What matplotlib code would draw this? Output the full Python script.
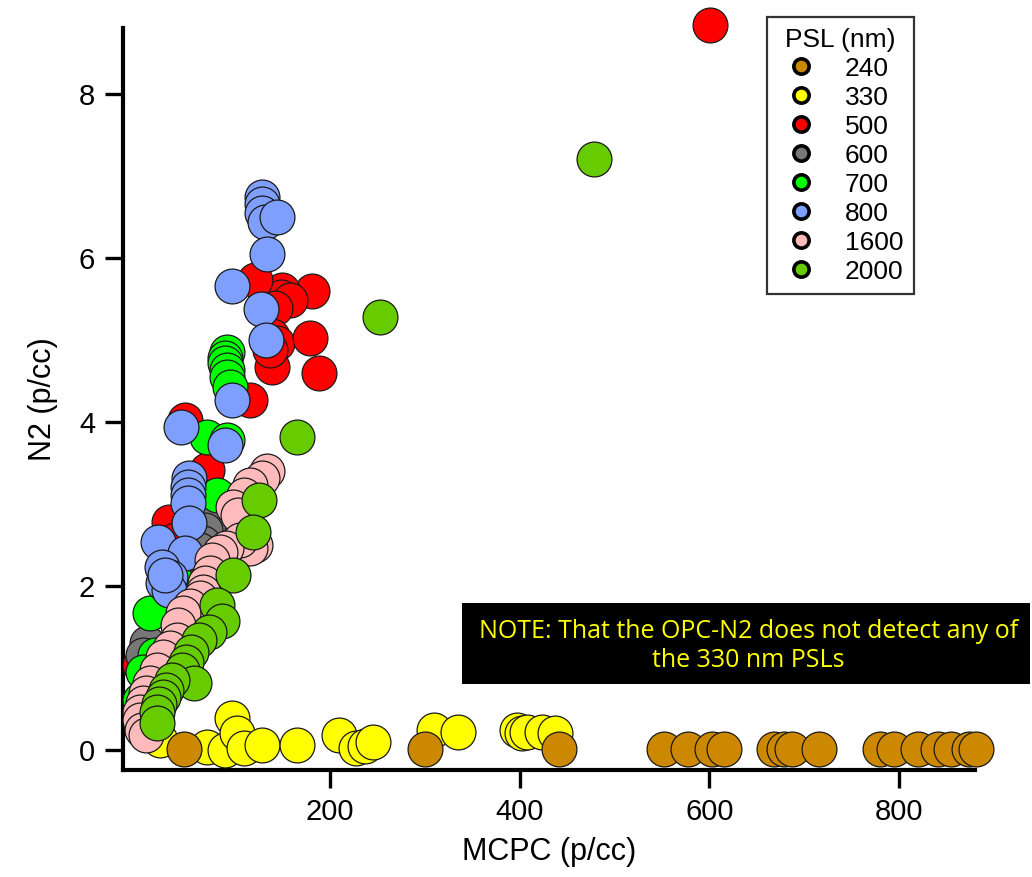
import matplotlib
matplotlib.use("Agg")
import matplotlib.pyplot as plt
from matplotlib.lines import Line2D
from matplotlib.patches import Rectangle

plt.rcParams["font.family"] = ["Liberation Sans", "DejaVu Sans"]

# PSL size classes and their marker colours
psl_sizes = ["240", "330", "500", "600", "700", "800", "1600", "2000"]
psl_colors = {
    "240": "#CC8800",
    "330": "#FFFF00",
    "500": "#FF0000",
    "600": "#777777",
    "700": "#00FF00",
    "800": "#7F9FFF",
    "1600": "#FFBBBB",
    "2000": "#66CC00",
}

# MCPC vs OPC-N2 concentrations (p/cc) per PSL size
mcpc_330 = [21, 70, 89, 97, 102, 110, 129, 165, 210, 228, 237, 245, 310, 335, 397, 402, 408, 424, 437]
n2_330 = [0.12, 0.04, 0.0, 0.39, 0.21, 0.02, 0.06, 0.06, 0.18, 0.02, 0.05, 0.10, 0.24, 0.22, 0.24, 0.21, 0.22, 0.22, 0.21]

mcpc_500 = [601, 181, 150, 149, 158, 142, 121, 139, 144, 179, 189, 139, 137, 116, 47, 70, 30, 56, 0, 37]
n2_500 = [8.84, 5.59, 5.61, 5.52, 5.49, 5.39, 5.73, 5.04, 4.96, 5.02, 4.60, 4.67, 4.88, 4.27, 4.02, 3.41, 2.78, 2.22, 1.04, 2.56]

mcpc_600 = [72, 68, 66, 63, 7, 3]
n2_600 = [2.74, 2.68, 2.52, 2.44, 1.30, 1.16]

mcpc_700 = [92, 90, 90, 92, 92, 95, 70, 92, 81, 10, 16, 3, 0, 37]
n2_700 = [4.85, 4.78, 4.72, 4.63, 4.55, 4.43, 3.82, 3.78, 3.11, 1.67, 1.16, 0.95, 0.61, 2.07]

mcpc_800 = [128, 128, 128, 132, 144, 134, 97, 127, 133, 97, 43, 90, 52, 51, 51, 50, 52, 19, 47, 23, 32, 24, 30, 26]
n2_800 = [6.74, 6.65, 6.55, 6.43, 6.50, 6.04, 5.66, 5.38, 5.00, 4.27, 3.94, 3.72, 3.32, 3.20, 3.11, 3.01, 2.77, 2.54, 2.40, 2.23, 2.11, 2.04, 1.95, 2.13]

mcpc_1600 = [134, 128, 116, 110, 98, 103, 121, 116, 105, 91, 84, 76, 74, 68, 66, 63, 53, 45, 40, 39,
             32, 24, 18, 10, 6, 3, 0, 0, 2, 6]
n2_1600 = [3.40, 3.32, 3.23, 3.11, 2.96, 2.87, 2.50, 2.46, 2.56, 2.46, 2.41, 2.32, 2.16, 2.04, 1.93, 1.85, 1.76, 1.67, 1.52, 1.34,
           1.24, 1.13, 0.98, 0.82, 0.70, 0.57, 0.46, 0.37, 0.24, 0.18]

mcpc_2000 = [478, 253, 165, 125, 119, 98, 81, 86, 73, 62, 54, 48, 44, 57, 34, 27, 24, 20, 18, 18]
n2_2000 = [7.20, 5.28, 3.82, 3.05, 2.66, 2.13, 1.77, 1.57, 1.44, 1.34, 1.20, 1.07, 0.98, 0.82, 0.85, 0.73, 0.65, 0.56, 0.46, 0.33]

mcpc_240 = [46, 300, 441, 552, 577, 603, 615, 668, 679, 687, 716, 780, 795, 820, 841, 855, 874, 881]
n2_240 = [0.01, 0.01, 0.01, 0.01, 0.01, 0.01, 0.01, 0.01, 0.01, 0.01, 0.01, 0.01, 0.01, 0.01, 0.01, 0.01, 0.01, 0.01]

series = [
    ("330", mcpc_330, n2_330),
    ("500", mcpc_500, n2_500),
    ("600", mcpc_600, n2_600),
    ("700", mcpc_700, n2_700),
    ("800", mcpc_800, n2_800),
    ("1600", mcpc_1600, n2_1600),
    ("2000", mcpc_2000, n2_2000),
    ("240", mcpc_240, n2_240),
]

fig = plt.figure(figsize=(10.32, 8.77), dpi=100)
ax = fig.add_axes([0.1192, 0.1220, 0.8256, 0.8461])

for size, xs, ys in series:
    ax.scatter(xs, ys, s=630, c=psl_colors[size], edgecolors="#1a1a1a",
               linewidths=0.9, clip_on=False, zorder=3)

ax.set_xlim(-18, 880)
ax.set_ylim(-0.244, 8.80)
ax.set_xticks([200, 400, 600, 800])
ax.set_yticks([0, 2, 4, 6, 8])

for side in ["top", "right"]:
    ax.spines[side].set_visible(False)
for side in ["left", "bottom"]:
    ax.spines[side].set_linewidth(3.0)

ax.tick_params(direction="out", length=13, width=2.4, labelsize=21, pad=7)
ax.set_xlabel("MCPC (p/cc)", fontsize=22, labelpad=8)
ax.set_ylabel("N2 (p/cc)", fontsize=22, labelpad=15)

# legend with small thick-edged circles
handles = [Line2D([], [], linestyle="none", marker="o", markersize=11,
                  markerfacecolor=psl_colors[s], markeredgecolor="black",
                  markeredgewidth=2.6) for s in psl_sizes]
leg = fig.legend(handles, psl_sizes, title="PSL (nm)", loc="upper left",
                 bbox_to_anchor=(767 / 1032, 1 - 17 / 877), fontsize=19,
                 title_fontsize=19, frameon=True, fancybox=False,
                 handletextpad=0.75, labelspacing=0.19, borderpad=0.4,
                 handlelength=1.8, borderaxespad=0)
leg.get_frame().set_edgecolor("black")
leg.get_frame().set_linewidth(1.6)

# note box
fig.patches.append(Rectangle((462 / 1032, 0.2201), 0.550, 0.0924,
                             transform=fig.transFigure, facecolor="black",
                             edgecolor="none", zorder=5))
fig.text(0.725, 0.2634, "NOTE: That the OPC-N2 does not detect any of\nthe 330 nm PSLs",
         ha="center", va="center", color="#FFFF00", fontsize=18,
         family=["Open Sans", "DejaVu Sans"], linespacing=1.25, zorder=6)

fig.savefig("out.png", dpi=100)
